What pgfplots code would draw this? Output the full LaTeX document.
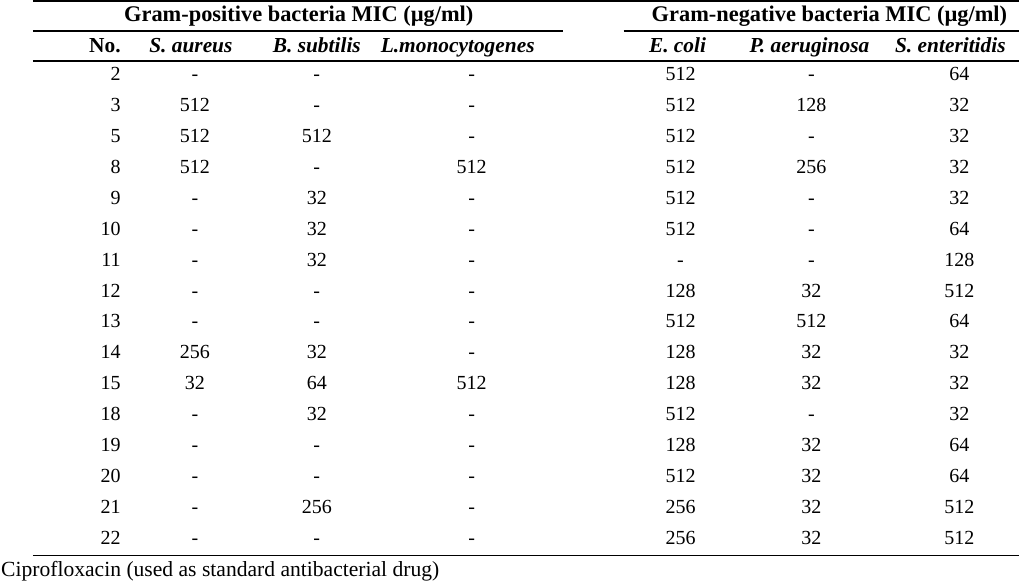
\documentclass[border=0pt]{standalone}
\usepackage{fontspec}
\setmainfont{Liberation Serif}
\usepackage{pgfplots}
\usepackage{pgfplotstable}
\pgfplotsset{compat=1.18}

% r = row index, values as printed ("-" = no activity)
\pgfplotstableread{
r No SA BS LM EC PA SE
0 2 - - - 512 - 64
1 3 512 - - 512 128 32
2 5 512 512 - 512 - 32
3 8 512 - 512 512 256 32
4 9 - 32 - 512 - 32
5 10 - 32 - 512 - 64
6 11 - 32 - - - 128
7 12 - - - 128 32 512
8 13 - - - 512 512 64
9 14 256 32 - 128 32 32
10 15 32 64 512 128 32 32
11 18 - 32 - 512 - 32
12 19 - - - 128 32 64
13 20 - - - 512 32 64
14 21 - 256 - 256 32 512
15 22 - - - 256 32 512
}\mic

\newcommand{\grp}{\fontsize{22.4}{25}\selectfont\bfseries}
\newcommand{\hdr}{\fontsize{21.4}{24}\selectfont\bfseries}
\newcommand{\hdri}{\fontsize{21.4}{24}\selectfont\bfseries\itshape}

\begin{document}
\begin{tikzpicture}
\begin{axis}[
  width=1020pt, height=586pt, scale only axis,
  xmin=0, xmax=1020, ymin=0, ymax=586, y dir=reverse,
  hide axis, clip=false,
  point meta=explicit symbolic,
  nodes near coords={\pgfplotspointmeta},
  every node near coord/.append style={anchor=base, inner sep=0pt, text=black,
     font=\fontsize{20}{24}\selectfont},
]
\path (axis cs:0,0) rectangle (axis cs:1020,586);

% rules
\draw[line width=1.4pt] (axis cs:33,1) -- (axis cs:1020,1);
\draw[line width=1.2pt] (axis cs:33,31) -- (axis cs:563,31);
\draw[line width=1.2pt] (axis cs:624,31) -- (axis cs:1020,31);
\draw[line width=1.2pt] (axis cs:33,61) -- (axis cs:1020,61);
\draw[line width=1.4pt] (axis cs:33,556) -- (axis cs:1020,556);

% group headers
\node[anchor=base, inner sep=0pt, font=\grp] at (axis cs:299,22) {Gram-positive bacteria MIC (µg/ml)};
\node[anchor=base, inner sep=0pt, font=\grp] at (axis cs:830,22) {Gram-negative bacteria MIC (µg/ml)};

% column headers
\node[anchor=base east, inner sep=0pt, font=\hdr] at (axis cs:121,53) {No.};
\node[anchor=base, inner sep=0pt, font=\hdri] at (axis cs:191,53) {S. aureus};
\node[anchor=base, inner sep=0pt, font=\hdri] at (axis cs:317,53) {B. subtilis};
\node[anchor=base, inner sep=0pt, font=\hdri] at (axis cs:458,53) {L.monocytogenes};
\node[anchor=base, inner sep=0pt, font=\hdri] at (axis cs:678,53) {E. coli};
\node[anchor=base, inner sep=0pt, font=\hdri] at (axis cs:810,53) {P. aeruginosa};
\node[anchor=base, inner sep=0pt, font=\hdri] at (axis cs:951,53) {S. enteritidis};

% body
\addplot[draw=none, mark=none, every node near coord/.append style={anchor=base east}]
  table[x expr=121, y expr=81+30.9*\thisrow{r}, meta=No] {\mic};
\addplot[draw=none, mark=none] table[x expr=195, y expr=81+30.9*\thisrow{r}, meta=SA] {\mic};
\addplot[draw=none, mark=none] table[x expr=317, y expr=81+30.9*\thisrow{r}, meta=BS] {\mic};
\addplot[draw=none, mark=none] table[x expr=472, y expr=81+30.9*\thisrow{r}, meta=LM] {\mic};
\addplot[draw=none, mark=none] table[x expr=681, y expr=81+30.9*\thisrow{r}, meta=EC] {\mic};
\addplot[draw=none, mark=none] table[x expr=812, y expr=81+30.9*\thisrow{r}, meta=PA] {\mic};
\addplot[draw=none, mark=none] table[x expr=960, y expr=81+30.9*\thisrow{r}, meta=SE] {\mic};

% footnote
\node[anchor=base west, inner sep=0pt, font=\fontsize{21.6}{24}\selectfont] at (axis cs:1,577) {Ciprofloxacin (used as standard antibacterial drug)};
\end{axis}
\end{tikzpicture}
\end{document}
